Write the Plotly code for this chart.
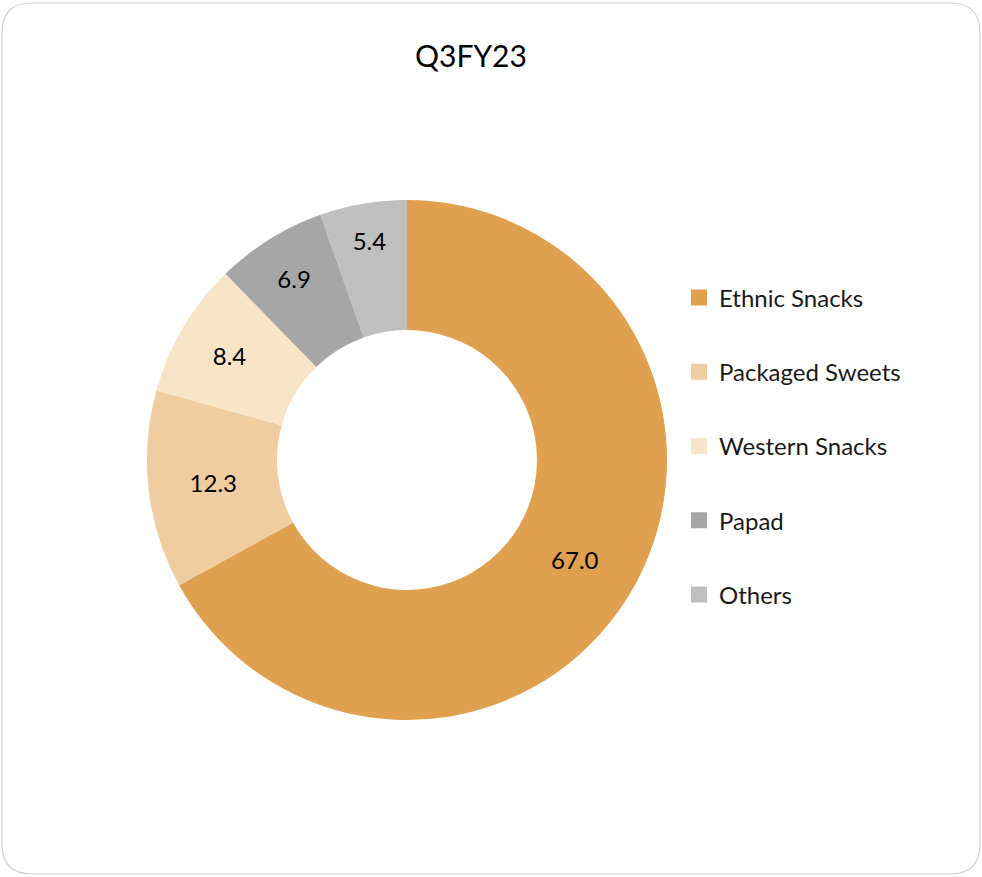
import plotly.graph_objects as go

categories = ["Ethnic Snacks", "Packaged Sweets", "Western Snacks", "Papad", "Others"]
values = [67.0, 12.3, 8.4, 6.9, 5.4]
colors = ["#DFA04F", "#F0CDA0", "#F8E5C7", "#A6A6A6", "#BFBFBF"]
title_text = "Q3FY23"

W, H = 982, 877
FONT = "Lato, 'Open Sans', sans-serif"

fig = go.Figure()
fig.add_trace(go.Pie(
    labels=categories, values=values,
    marker=dict(colors=colors, line=dict(width=0)),
    hole=0.5, sort=False, direction="clockwise", rotation=0,
    texttemplate="%{value:.1f}", textposition="inside",
    insidetextorientation="horizontal",
    textfont=dict(color="black", size=24, family=FONT),
    domain=dict(x=[147 / W, 667 / W], y=[(H - 720) / H, (H - 200) / H]),
    showlegend=False, hoverinfo="label+value",
))
for c, col in zip(categories, colors):
    fig.add_trace(go.Scatter(
        x=[None], y=[None], mode="markers", name=c, legendgroup=c,
        marker=dict(symbol="square", size=16, color=col),
    ))

r = 30
x0, x1, y0, y1 = 2, 980, 3, 874
def px(x):
    return x / W
def py(y):
    return 1 - y / H
path = (f"M {px(x0 + r)},{py(y0)} L {px(x1 - r)},{py(y0)} "
        f"Q {px(x1)},{py(y0)} {px(x1)},{py(y0 + r)} "
        f"L {px(x1)},{py(y1 - r)} Q {px(x1)},{py(y1)} {px(x1 - r)},{py(y1)} "
        f"L {px(x0 + r)},{py(y1)} Q {px(x0)},{py(y1)} {px(x0)},{py(y1 - r)} "
        f"L {px(x0)},{py(y0 + r)} Q {px(x0)},{py(y0)} {px(x0 + r)},{py(y0)} Z")

fig.update_layout(
    width=W, height=H,
    margin=dict(l=0, r=0, t=0, b=0),
    paper_bgcolor="white", plot_bgcolor="white",
    xaxis=dict(visible=False), yaxis=dict(visible=False),
    shapes=[dict(type="path", path=path, xref="paper", yref="paper",
                 line=dict(color="#D0D0D0", width=1.2), layer="below")],
    annotations=[dict(text=title_text, x=471 / W, y=1 - 55 / H, xref="paper", yref="paper",
                      showarrow=False, font=dict(size=30, color="black", family=FONT),
                      xanchor="center", yanchor="middle")],
    legend=dict(x=679 / W, y=1 - 446 / H, xanchor="left", yanchor="middle",
                font=dict(size=24, color="#1a1a1a", family=FONT),
                tracegroupgap=40, itemwidth=30, bgcolor="rgba(0,0,0,0)"),
    font=dict(family=FONT),
)

fig.write_html("out.html")
